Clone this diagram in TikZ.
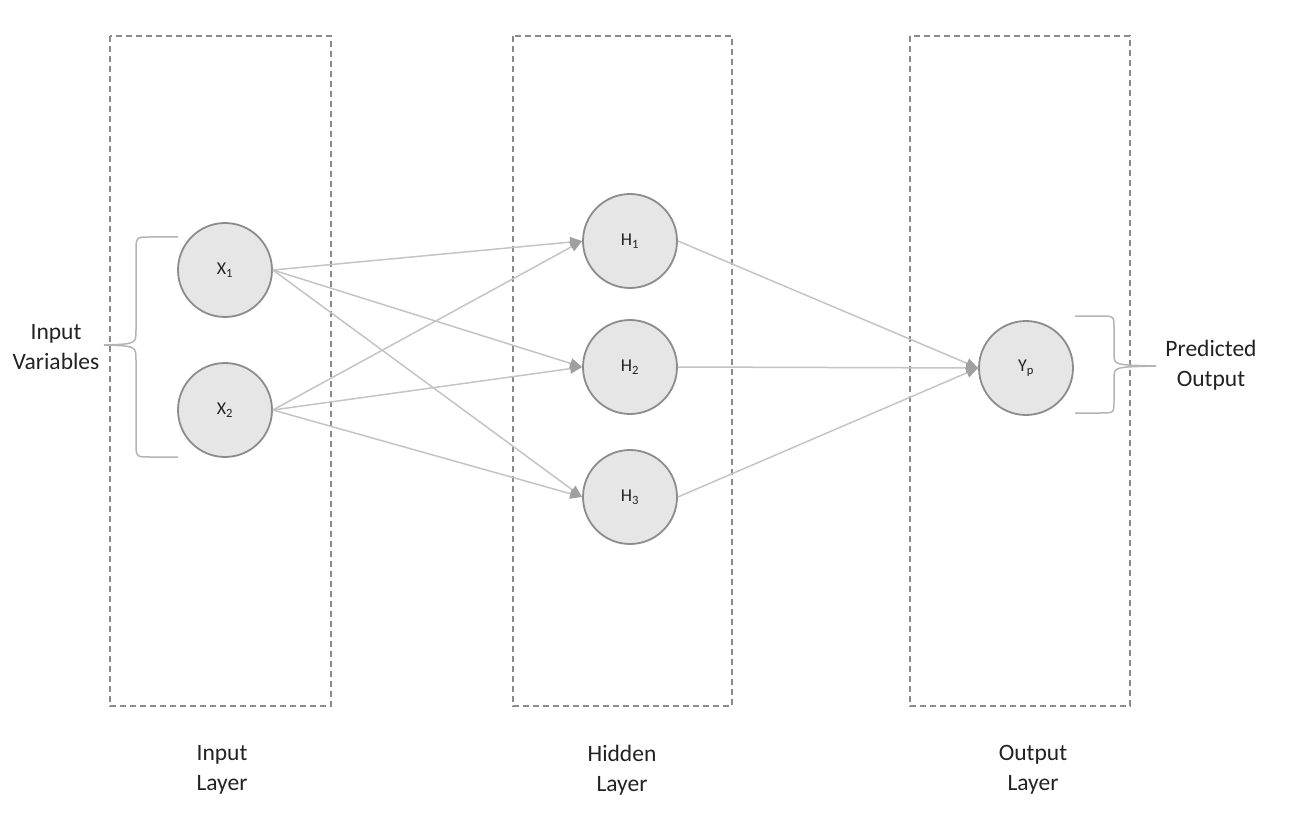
\documentclass[tikz,border=0pt]{standalone}
\usepackage{fontspec}
\setmainfont{Carlito}
\usetikzlibrary{arrows.meta}
\definecolor{boxgray}{HTML}{8A8A8A}
\definecolor{nodefill}{HTML}{E6E6E6}
\definecolor{nodeline}{HTML}{8C8C8C}
\definecolor{edgegray}{HTML}{C4C4C4}
\definecolor{tipgray}{HTML}{A0A0A0}
\definecolor{bracegray}{HTML}{B4B4B4}
\definecolor{txt}{HTML}{222222}
\tikzset{
  layerbox/.style={draw=boxgray, line width=1.5pt, dash pattern=on 6pt off 4pt},
  neuron/.style={circle, draw=nodeline, fill=nodefill, line width=1.8pt,
    minimum size=94pt, inner sep=0pt, font=\fontsize{18}{20}\selectfont, text=txt},
  link/.style={draw=edgegray, line width=1.5pt},
  flow/.style={link, -{Triangle[length=12pt,width=10pt,color=tipgray]}},
  bracepath/.style={draw=bracegray, line width=1.5pt},
  caption/.style={align=center, font=\fontsize{23.5}{30}\selectfont, text=txt}
}
\begin{document}
\begin{tikzpicture}[x=1pt,y=-1pt]
\useasboundingbox (0,0) rectangle (1315,821);

% layer frames
\draw[layerbox] (110,36) rectangle (331,706);
\draw[layerbox] (513,36) rectangle (732,706);
\draw[layerbox] (910,36) rectangle (1130,706);

% neurons
\node[neuron] (x1) at (225,270) {X\textsubscript{1}};
\node[neuron] (x2) at (225,410) {X\textsubscript{2}};
\node[neuron] (h1) at (630,241) {H\textsubscript{1}};
\node[neuron] (h2) at (630,367) {H\textsubscript{2}};
\node[neuron] (h3) at (630,497) {H\textsubscript{3}};
\node[neuron] (yp) at (1026,368) {Y\textsubscript{p}};

% connections, each leaving the east side and entering the west side
\foreach \s in {x1,x2}{
  \foreach \t in {h1,h2,h3}{
    \draw[flow] (\s.east) -- (\t.west);
  }
}
\foreach \s in {h1,h2,h3}{
  \draw[flow] (\s.east) -- (yp.west);
}

% input brace
\draw[bracepath] (178,237) -- (150,237) .. controls (136,237) .. (136,252)
  -- (136,330) .. controls (136,344) .. (104,345)
  .. controls (136,346) .. (136,360) -- (136,442)
  .. controls (136,457) .. (150,457) -- (178,457);
% output brace
\draw[bracepath] (1075,316) -- (1100,316) .. controls (1114,316) .. (1114,328)
  -- (1114,354) .. controls (1114,365) .. (1156,366)
  .. controls (1114,367) .. (1114,378) -- (1114,401)
  .. controls (1114,413) .. (1100,413) -- (1075,413);

% captions
\node[caption] (inv) at (56,347) {Input\\Variables};
\node[caption] (pred) at (1211,365) {Predicted\\Output};
\node[caption] (inl) at (222,770) {Input\\Layer};
\node[caption] (hidl) at (622,770) {Hidden\\Layer};
\node[caption] (outl) at (1033,770) {Output\\Layer};
\end{tikzpicture}
\end{document}
